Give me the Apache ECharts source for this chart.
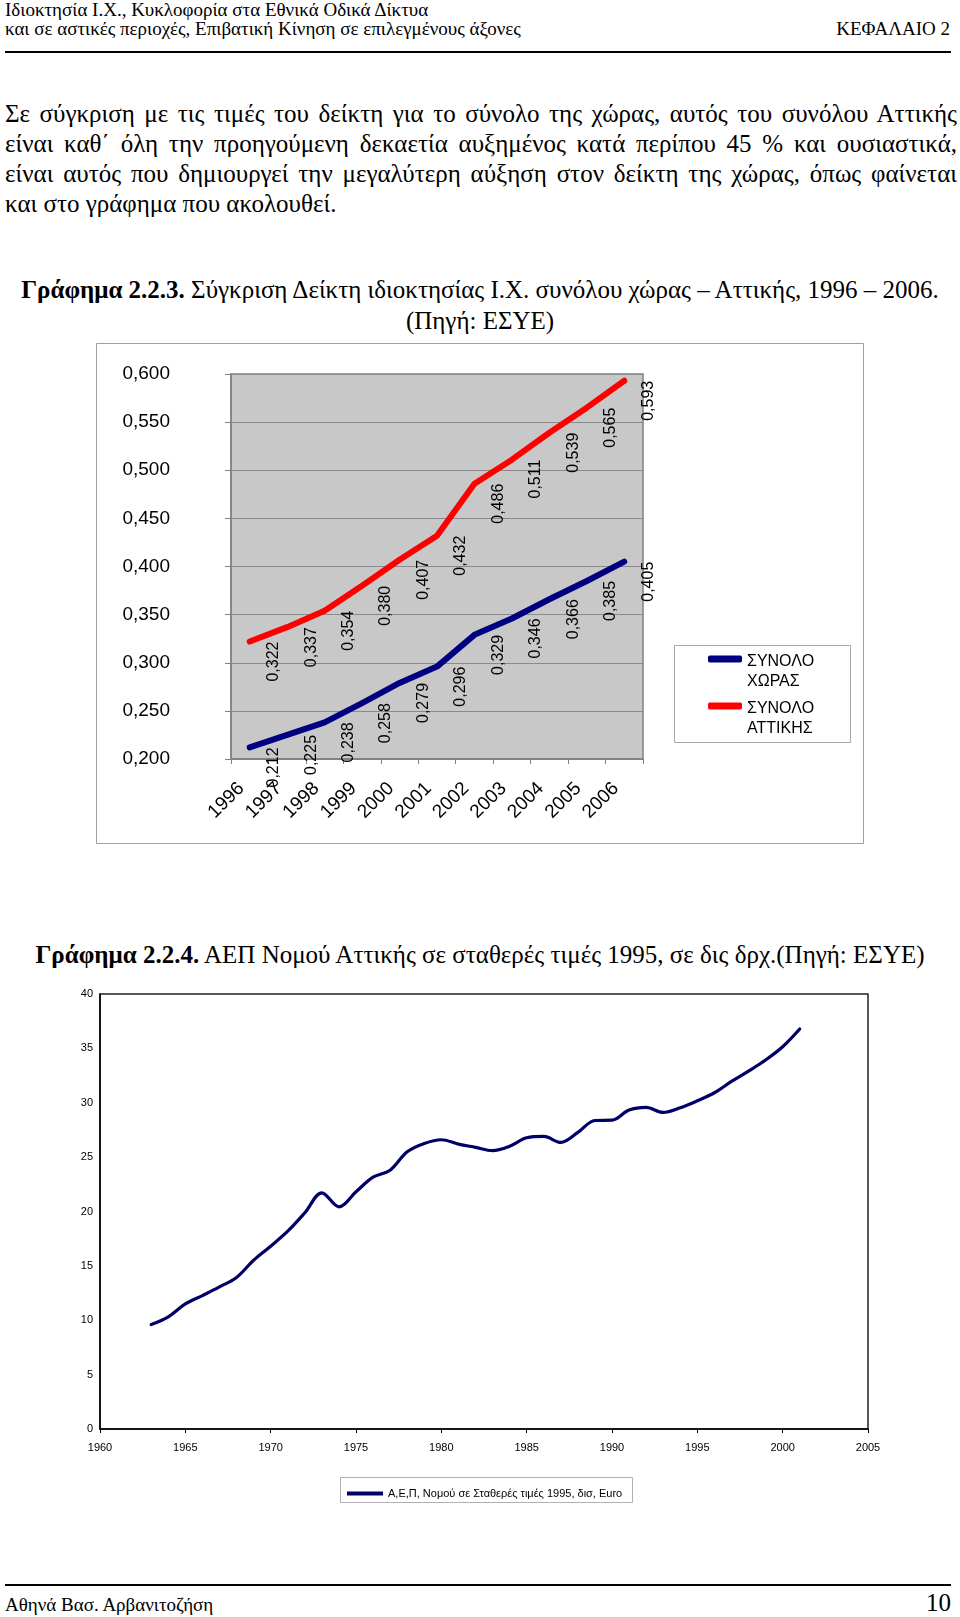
<!DOCTYPE html>
<html><head><meta charset="utf-8">
<script src="https://cdn.jsdelivr.net/npm/echarts@6/dist/echarts.min.js"></script>
<style>
html,body{margin:0;padding:0;background:#fff;}
body{width:960px;height:1617px;position:relative;overflow:hidden;font-family:"Liberation Serif","Times New Roman",serif;color:#000;}
.t{position:absolute;white-space:nowrap;}
.j{position:absolute;white-space:nowrap;text-align:justify;text-align-last:justify;}
.rule{position:absolute;background:#000;}
</style></head><body>
<div class="t" style="left:5px;top:0px;font-size:19px;line-height:20px">Ιδιοκτησία Ι.Χ., Κυκλοφορία στα Εθνικά Οδικά Δίκτυα</div>
<div class="t" style="left:5px;top:19px;font-size:19px;line-height:20px">και σε αστικές περιοχές, Επιβατική Κίνηση σε επιλεγμένους άξονες</div>
<div class="t" style="right:10px;top:19px;font-size:19px;line-height:20px">ΚΕΦΑΛΑΙΟ 2</div>
<div class="rule" style="left:5px;top:51px;width:946px;height:2px"></div>

<div class="j" style="left:5px;top:99px;width:952px;font-size:25px;line-height:30px">Σε σύγκριση με τις τιμές του δείκτη για το σύνολο της χώρας, αυτός του συνόλου Αττικής</div>
<div class="j" style="left:5px;top:129px;width:952px;font-size:25px;line-height:30px">είναι καθ΄ όλη την προηγούμενη δεκαετία αυξημένος κατά περίπου 45 % και ουσιαστικά,</div>
<div class="j" style="left:5px;top:159px;width:952px;font-size:25px;line-height:30px">είναι αυτός που δημιουργεί την μεγαλύτερη αύξηση στον δείκτη της χώρας, όπως φαίνεται</div>
<div class="t" style="left:5px;top:189px;font-size:25px;line-height:30px">και στο γράφημα που ακολουθεί.</div>

<div class="t" style="left:0;width:960px;text-align:center;top:275px;font-size:25px;line-height:30px"><b>Γράφημα 2.2.3.</b> Σύγκριση Δείκτη ιδιοκτησίας Ι.Χ. συνόλου χώρας – Αττικής, 1996 – 2006.</div>
<div class="t" style="left:0;width:960px;text-align:center;top:306px;font-size:25px;line-height:30px">(Πηγή: ΕΣΥΕ)</div>

<div id="c1" style="position:absolute;left:96px;top:343px;width:769px;height:502px"></div>

<div class="t" style="left:0;width:960px;text-align:center;top:940px;font-size:25px;line-height:30px"><b>Γράφημα 2.2.4.</b> ΑΕΠ Νομού Αττικής σε σταθερές τιμές 1995, σε δις δρχ.(Πηγή: ΕΣΥΕ)</div>

<div id="c2" style="position:absolute;left:0;top:975px;width:960px;height:540px"></div>

<div class="rule" style="left:5px;top:1584px;width:946px;height:2px"></div>
<div class="t" style="left:5px;top:1593px;font-size:19px;line-height:24px">Αθηνά Βασ. Αρβανιτοζήση</div>
<div class="t" style="right:9px;top:1589px;font-size:25px;line-height:28px">10</div>

<script>
// ---------- Chart 1 data ----------
const years1 = ['1996','1997','1998','1999','2000','2001','2002','2003','2004','2005','2006'];
const synoloXoras = [0.212,0.225,0.238,0.258,0.279,0.296,0.329,0.346,0.366,0.385,0.405];
const synoloAttikis = [0.322,0.337,0.354,0.380,0.407,0.432,0.486,0.511,0.539,0.565,0.593];
const seriesNames1 = ['ΣΥΝΟΛΟ ΧΩΡΑΣ','ΣΥΝΟΛΟ ΑΤΤΙΚΗΣ'];

// ---------- Chart 2 data ----------
const years2 = [1963,1964,1965,1966,1967,1968,1969,1970,1971,1972,1973,1974,1975,1976,1977,1978,1979,1980,1981,1982,1983,1984,1985,1986,1987,1988,1989,1990,1991,1992,1993,1994,1995,1996,1997,1998,1999,2000,2001];
const gdpAttica = [9.60,10.31,11.50,12.27,13.07,13.93,15.52,16.81,18.19,19.88,21.72,20.43,21.81,23.16,23.80,25.49,26.26,26.60,26.20,25.90,25.60,26.00,26.78,26.90,26.35,27.27,28.37,28.40,29.33,29.57,29.11,29.54,30.18,30.92,31.96,32.91,33.93,35.15,36.78];
const seriesName2 = 'Α,Ε,Π, Νομού σε Σταθερές τιμές 1995, δισ, Euro';

const fmt3 = v => v.toFixed(3).replace('.', ',');
const SANS = 'Arial, "Liberation Sans", sans-serif';

const c1 = echarts.init(document.getElementById('c1'), null, {renderer:'canvas'});
const lbl = {
  show: true, position: [25, 1], rotate: 90, align: 'right', verticalAlign: 'middle',
  fontSize: 16, fontFamily: SANS, color: '#000',
  formatter: p => fmt3(p.value)
};
c1.setOption({
  animation: false,
  graphic: [
    {type:'rect', z:-5, silent:true, shape:{x:0.5,y:0.5,width:767,height:500}, style:{fill:'none', stroke:'#a0a0a0', lineWidth:1}},
    {type:'rect', z:1, silent:true, shape:{x:578.5,y:302.5,width:176,height:97}, style:{fill:'#fff', stroke:'#a8a8a8', lineWidth:1}}
  ],
  grid: {left:135, top:31, width:412, height:385, show:true, backgroundColor:'#c8c8c8', borderColor:'#808080', borderWidth:1.5},
  legend: {
    data: seriesNames1, orient:'vertical', left:607, top:286, itemGap:-9,
    icon:'roundRect', itemWidth:34, itemHeight:7,
    formatter: n => { const p = n.split(' '); return '{e| }\n{t|' + p[0] + '}\n{t|' + p[1] + '}'; },
    textStyle: {fontSize:16, fontFamily:SANS, color:'#000',
      rich:{e:{fontSize:10, lineHeight:26}, t:{fontSize:16, fontFamily:SANS, color:'#000', lineHeight:20}}}
  },
  xAxis: {
    type:'category', data: years1, boundaryGap:true,
    axisLine:{show:true, lineStyle:{color:'#808080', width:1.5}},
    axisTick:{show:true, length:5, lineStyle:{color:'#808080'}},
    axisLabel:{rotate:45, interval:0, margin:18, fontSize:19, fontFamily:SANS, color:'#000',
      formatter: v => '{a|' + v + '}',
      rich:{a:{fontSize:19, fontFamily:SANS, color:'#000', padding:[0,12,0,0]}}}
  },
  yAxis: {
    type:'value', min:0.2, max:0.6, interval:0.05,
    axisLine:{show:true, lineStyle:{color:'#808080', width:1.5}},
    axisTick:{show:true, length:6, lineStyle:{color:'#808080'}},
    splitLine:{show:true, lineStyle:{color:'#8a8a8a', width:1}},
    axisLabel:{margin:61, fontSize:19, fontFamily:SANS, color:'#000', formatter: fmt3}
  },
  series: [
    {name: seriesNames1[0], type:'line', data: synoloXoras, symbol:'circle', symbolSize:2, showSymbol:true,
     itemStyle:{color:'#000080'}, lineStyle:{color:'#000080', width:6, cap:'round', join:'round'}, label: lbl, z:3},
    {name: seriesNames1[1], type:'line', data: synoloAttikis, symbol:'circle', symbolSize:2, showSymbol:true,
     itemStyle:{color:'#ff0000'}, lineStyle:{color:'#ff0000', width:6, cap:'round', join:'round'}, label: lbl, z:3}
  ]
});

const c2 = echarts.init(document.getElementById('c2'), null, {renderer:'canvas'});
c2.setOption({
  animation: false,
  graphic: [
    {type:'rect', z:1, silent:true, shape:{x:340.5,y:502.5,width:292,height:25}, style:{fill:'#fff', stroke:'#b0b0b0', lineWidth:1}}
  ],
  grid: {left:100, top:19, width:768, height:435, show:true, backgroundColor:'#fff', borderColor:'#222', borderWidth:1.5},
  legend: {
    data:[seriesName2], left:342, top:508, icon:'rect', itemWidth:36, itemHeight:4,
    textStyle:{fontSize:11, fontFamily:SANS, color:'#000'}
  },
  xAxis: {
    type:'value', min:1960, max:2005, interval:5,
    axisLine:{show:true, lineStyle:{color:'#000', width:1.5}},
    axisTick:{show:true, length:4, lineStyle:{color:'#000'}},
    splitLine:{show:false},
    axisLabel:{margin:13, fontSize:11, fontFamily:SANS, color:'#000', formatter: v => String(v)}
  },
  yAxis: {
    type:'value', min:0, max:40, interval:5,
    axisLine:{show:true, lineStyle:{color:'#000', width:1.5}},
    axisTick:{show:false},
    splitLine:{show:false},
    axisLabel:{margin:7, fontSize:11, fontFamily:SANS, color:'#000'}
  },
  series: [
    {name: seriesName2, type:'line', data: years2.map((y,i)=>[y, gdpAttica[i]]), smooth:0.35, showSymbol:false,
     itemStyle:{color:'#000066'}, lineStyle:{color:'#000066', width:3.2, cap:'round', join:'round'}}
  ]
});
</script>
</body></html>
